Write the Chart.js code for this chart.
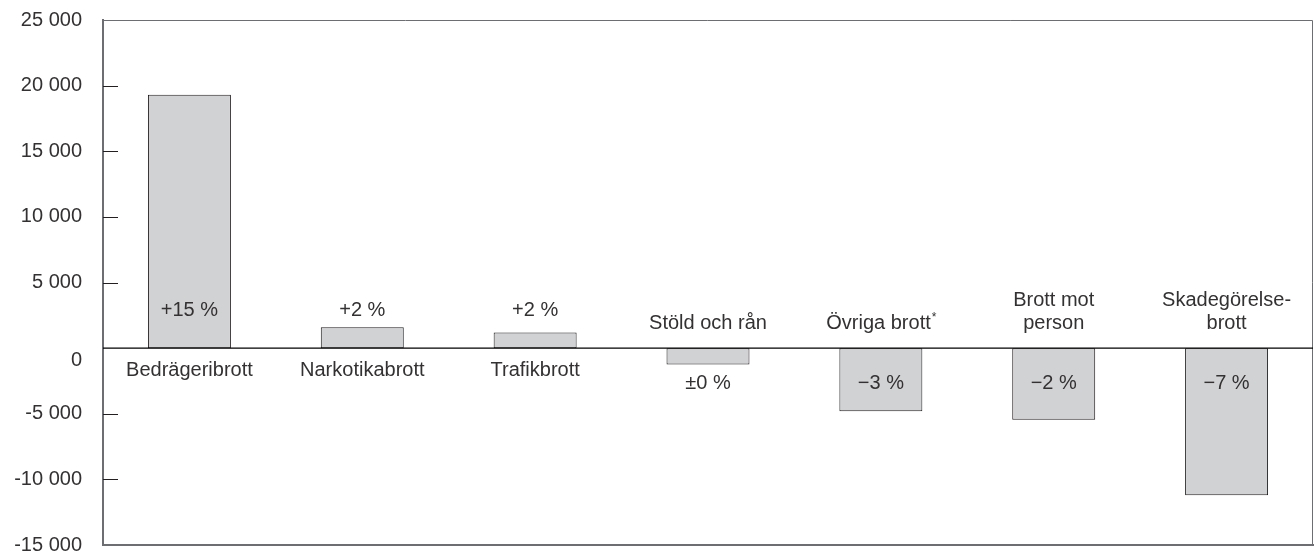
<!DOCTYPE html>
<html>
<head>
<meta charset="utf-8">
<script src="https://cdn.jsdelivr.net/npm/chart.js@4/dist/chart.umd.min.js"></script>
<style>
  html, body { margin: 0; padding: 0; background: #fff; }
  #wrap { width: 1315px; height: 553px; }
</style>
</head>
<body>
<div id="wrap"><canvas id="chart" width="1315" height="553"></canvas></div>
<script>
  var categories = [
    'Bedrägeribrott',
    'Narkotikabrott',
    'Trafikbrott',
    'Stöld och rån',
    'Övriga brott*',
    ['Brott mot', 'person'],
    ['Skadegörelse-', 'brott']
  ];
  var changeValues = [19300, 1600, 1200, -1250, -4800, -5450, -11200];
  var changeLabels = ['+15 %', '+2 %', '+2 %', '\u00b10 %', '\u22123 %', '\u22122 %', '\u22127 %'];
  var yMin = -15000, yMax = 25000, yStep = 5000;

  var textColor = '#333132';
  var fontFamily = '"Liberation Sans", Arial, Helvetica, sans-serif';
  var fontSize = 20;

  function fmt(v) {
    var s = Math.abs(v).toString().replace(/\B(?=(\d{3})+(?!\d))/g, ' ');
    return (v < 0 ? '-' : '') + s;
  }

  // text with a trailing '*' gets a small raised asterisk
  function drawLabel(ctx, text, cx, cy) {
    if (text.slice(-1) !== '*') {
      ctx.fillText(text, cx, cy);
      return;
    }
    var main = text.slice(0, -1);
    var small = Math.round(fontSize * 0.6) + 'px ' + fontFamily;
    var w1 = ctx.measureText(main).width;
    ctx.save();
    ctx.font = small;
    var w2 = ctx.measureText('*').width;
    ctx.restore();
    var start = cx - (w1 + w2) / 2;
    ctx.save();
    ctx.textAlign = 'left';
    ctx.fillText(main, start, cy);
    ctx.font = small;
    ctx.fillText('*', start + w1 + 1, cy - 5);
    ctx.restore();
  }

  // frame, inner ticks, zero line and the text labels
  var annotations = {
    id: 'annotations',
    afterDatasetsDraw: function (chart) {
      var ctx = chart.ctx, a = chart.chartArea;
      var x = chart.scales.x, y = chart.scales.y;
      var zero = y.getPixelForValue(0);
      ctx.save();

      // top and right edges
      ctx.strokeStyle = '#6d6e71';
      ctx.lineWidth = 1;
      ctx.beginPath();
      ctx.moveTo(a.left, a.top + 0.5);
      ctx.lineTo(a.right - 0.5, a.top + 0.5);
      ctx.lineTo(a.right - 0.5, a.bottom);
      ctx.stroke();

      // inner tick marks
      ctx.strokeStyle = '#231f20';
      ctx.beginPath();
      y.ticks.forEach(function (t) {
        if (t.value === 0 || t.value === yMin || t.value === yMax) return;
        var py = Math.round(y.getPixelForValue(t.value)) + 0.5;
        ctx.moveTo(a.left, py);
        ctx.lineTo(a.left + 15, py);
      });
      ctx.stroke();

      // zero line
      ctx.strokeStyle = '#000';
      ctx.lineWidth = 1.3;
      ctx.beginPath();
      ctx.moveTo(a.left, zero);
      ctx.lineTo(a.right, zero);
      ctx.stroke();

      ctx.fillStyle = textColor;
      ctx.font = fontSize + 'px ' + fontFamily;
      ctx.textAlign = 'center';
      ctx.textBaseline = 'middle';
      var lineH = 23;
      changeValues.forEach(function (v, i) {
        var cx = x.getPixelForValue(i);
        var name = categories[i];
        var lines = Array.isArray(name) ? name : [name];
        if (v >= 0) {
          ctx.fillText(changeLabels[i], cx, zero - 38);
          lines.forEach(function (l, k) {
            drawLabel(ctx, l, cx, zero + 22 + k * lineH);
          });
        } else {
          ctx.fillText(changeLabels[i], cx, zero + 35);
          lines.forEach(function (l, k) {
            drawLabel(ctx, l, cx, zero - 25 - (lines.length - 1 - k) * lineH);
          });
        }
      });
      ctx.restore();
    }
  };

  var ctx = document.getElementById('chart').getContext('2d');
  new Chart(ctx, {
    type: 'bar',
    data: {
      labels: categories,
      datasets: [{
        data: changeValues,
        backgroundColor: '#d1d2d4',
        borderColor: '#231f20',
        borderWidth: 1,
        borderSkipped: false,
        categoryPercentage: 1,
        barPercentage: 0.48
      }]
    },
    options: {
      responsive: false,
      animation: false,
      layout: { padding: { top: 20, right: 2, left: 0, bottom: 0 } },
      plugins: { legend: { display: false }, tooltip: { enabled: false } },
      scales: {
        x: {
          grid: { display: false },
          ticks: { display: false },
          border: { color: '#6d6e71', width: 2 },
          afterFit: function (s) { s.height = 8; s.paddingLeft = 0; s.paddingRight = 0; }
        },
        y: {
          min: yMin,
          max: yMax,
          grid: { display: false, drawTicks: false },
          border: { color: '#6d6e71', width: 2 },
          ticks: {
            stepSize: yStep,
            padding: 21,
            color: textColor,
            font: { family: fontFamily, size: fontSize },
            callback: function (v) { return v === 0 ? ['', '0'] : fmt(v); }
          },
          afterFit: function (s) { s.width = 103; s.paddingTop = 0; s.paddingBottom = 0; }
        }
      }
    },
    plugins: [annotations]
  });
</script>
</body>
</html>
